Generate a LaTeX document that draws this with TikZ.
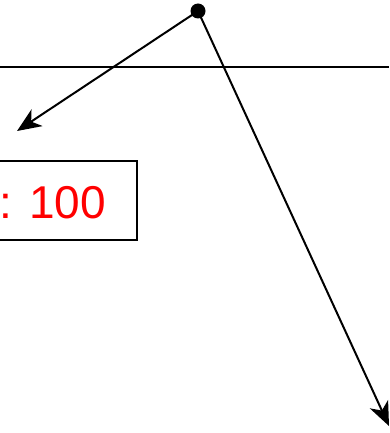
\documentclass[tikz,border=0pt]{standalone}
\usepackage{fontspec}
\setmainfont{Liberation Sans}
\usetikzlibrary{arrows.meta}
\tikzset{
  ptr/.style={line width=2pt, -{Stealth[length=24pt, width=20pt, inset=7pt]}},
  valbox/.style={draw, line width=2pt, minimum width=170pt, minimum height=79pt, inner sep=0pt}
}
\begin{document}
\begin{tikzpicture}[x=1pt,y=1pt]
    \clip (0,0) rectangle (389,-433);
    \useasboundingbox (0,0) rectangle (389,-433);
    % horizontal rule
    \coordinate (ruleL) at (0,-67);
    \coordinate (ruleR) at (389,-67);
    \draw[line width=1.6pt] (ruleL) -- (ruleR);
    % value box, cut off on the left
    \node[valbox, anchor=east] (box) at (138,-200.5) {};
    \node[anchor=base east, inner sep=0pt, text=red, font=\fontsize{46}{46}\selectfont] (val) at (106,-218) {: 100};
    % pointer origin
    \node[circle, fill=black, inner sep=0pt, minimum size=15pt] (src) at (198,-11) {};
    \coordinate (tipL) at (17,-131);
    \coordinate (tipR) at (389,-426);
    \draw[ptr] (src.center) -- (tipL);
    \draw[ptr] (src.center) -- (tipR);
  \end{tikzpicture}
\end{document}
